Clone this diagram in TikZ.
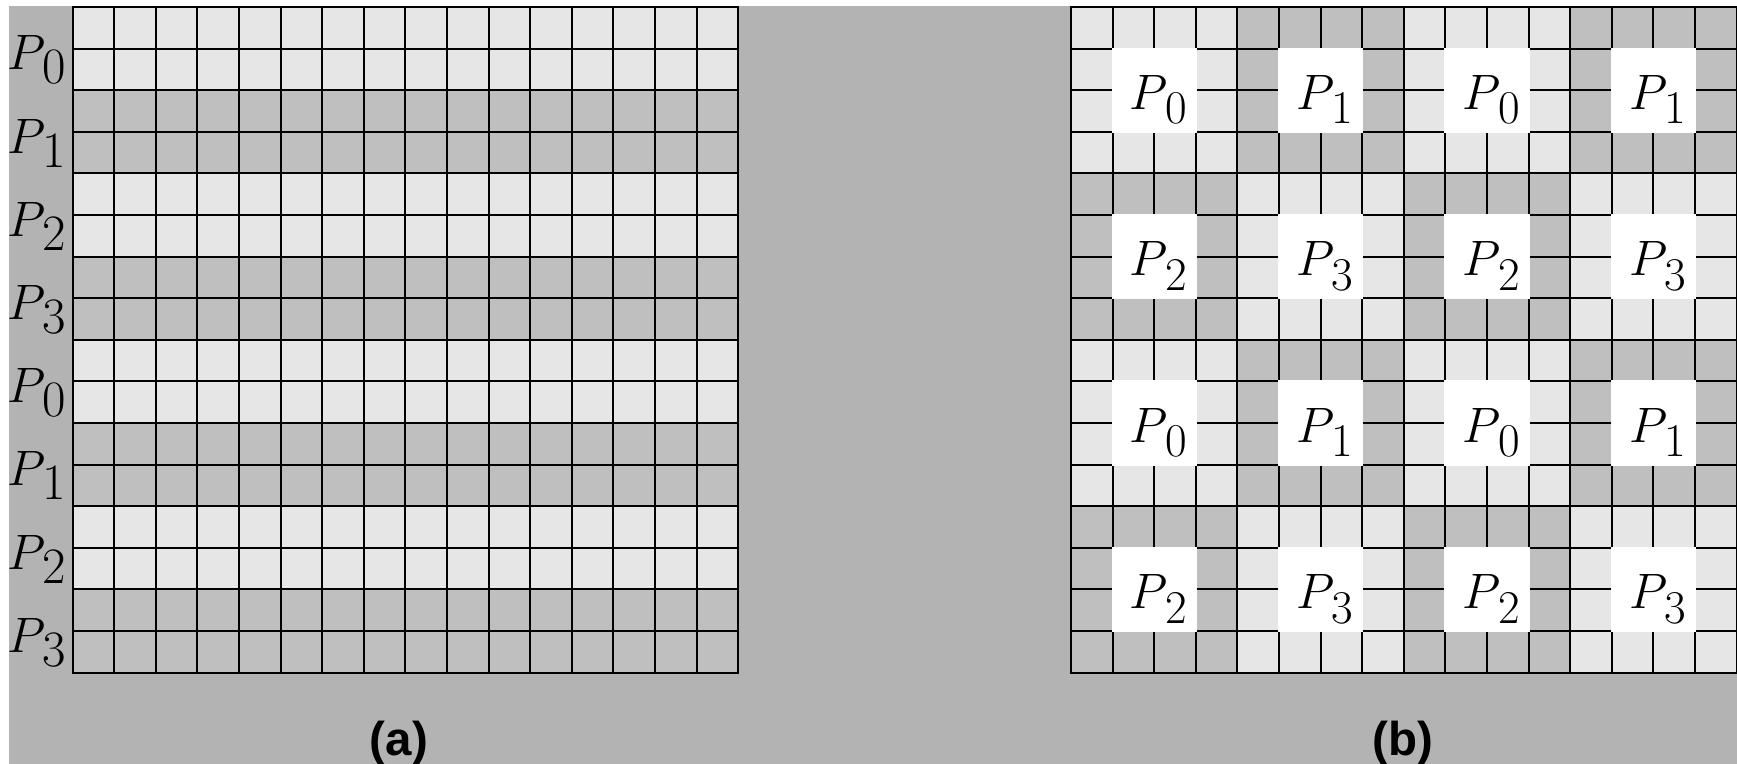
\documentclass[tikz,border=0pt]{standalone}
\usepackage{fontspec}
\newfontfamily\capfont{Liberation Sans}
\definecolor{bgray}{RGB}{179,179,179}
\definecolor{lcell}{RGB}{230,230,230}
\definecolor{dcell}{RGB}{191,191,191}
% P with a lowered subscript digit: main size, sub size, kern, drop, digit
\newcommand\plabtext[5]{\fontsize{#1}{#1}\selectfont$P$\kern#3\raisebox{-#4}{\fontsize{#2}{#2}\selectfont #5}}
\begin{document}
\begin{tikzpicture}[x=0.5pt,y=-0.5pt,
  plabel/.style={anchor=base west, inner sep=0pt},
  caption/.style={anchor=base, inner sep=0pt, font=\capfont\bfseries\fontsize{23.75}{28}\selectfont},
  gridline/.style={line width=1pt, black},
  whitebox/.style={fill=white}]
\useasboundingbox (0,0) rectangle (1737,764);
\fill[white] (0,0) rectangle (1737,764);
\fill[bgray] (9,6) rectangle (1737,764);
\def\cs{41.6}
% ---------- left grid (a) ----------
\foreach \k in {0,...,7} {
  \pgfmathsetmacro\yy{7+\k*2*\cs}
  \ifodd\k \def\cc{dcell}\else\def\cc{lcell}\fi
  \fill[\cc] (72.5,\yy) rectangle ++(665.6,83.2);
}
\foreach \i in {0,...,16} {
  \draw[gridline] ({72.5+\i*\cs},7) -- ++(0,665.6);
  \draw[gridline] (72.5,{7+\i*\cs}) -- ++(665.6,0);
}
\draw[gridline] (72.5,7) rectangle ++(665.6,665.6);
\foreach \k in {0,...,7} {
  \pgfmathtruncatemacro\pn{mod(\k,4)}
  \node[plabel] (l\k) at (7.6,{7+\cs*(2*\k+1)+21.4}) {\plabtext{29}{25.5}{-1.9pt}{6.95pt}{\pn}};
}
% ---------- right grid (b) ----------
\foreach \i in {0,...,3} {
  \foreach \j in {0,...,3} {
    \pgfmathtruncatemacro\pp{mod(\i+\j,2)}
    \ifnum\pp=0 \def\cc{lcell}\else\def\cc{dcell}\fi
    \fill[\cc] ({1071+\j*4*\cs},{7+\i*4*\cs}) rectangle ++(166.4,166.4);
  }
}
\foreach \i in {0,...,16} {
  \draw[gridline] ({1071+\i*\cs},7) -- ++(0,665.6);
  \draw[gridline] (1071,{7+\i*\cs}) -- ++(665.6,0);
}
\draw[gridline] (1071,7) rectangle ++(665.6,665.6);
\foreach \i in {0,...,3} {
  \foreach \j in {0,...,3} {
    \pgfmathtruncatemacro\pn{2*mod(\i,2)+mod(\j,2)}
    \fill[whitebox] ({1071+\cs*(4*\j+1)-1},{7+\cs*(4*\i+1)-1}) rectangle ++(85.2,85.2);
    \node[plabel] (r\i\j) at ({1071+\cs*(4*\j+2)-24.8},{7+\cs*(4*\i+2)+19.1}) {\plabtext{27}{23.5}{-1.25pt}{7.35pt}{\pn}};
  }
}
% ---------- captions ----------
\node[caption] (capa) at (399,755) {(a)};
\node[caption] (capb) at (1403,755) {(b)};
\end{tikzpicture}
\end{document}
